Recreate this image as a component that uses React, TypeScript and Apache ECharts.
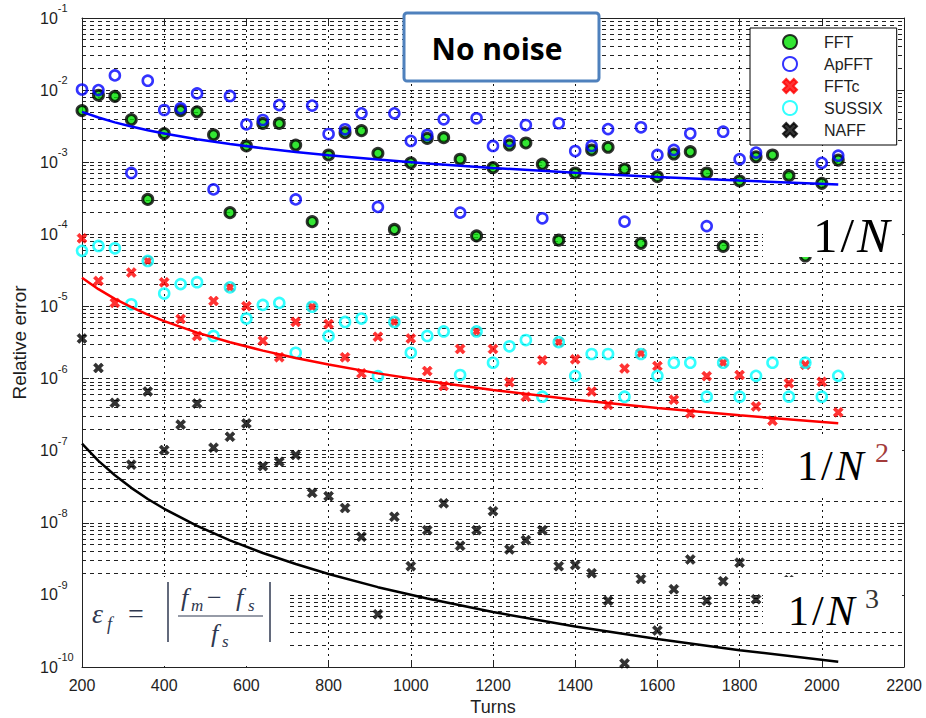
import React, { useEffect, useRef } from "react";
import * as echarts from "echarts";

// ---------- data ----------
const turns = [200, 240, 280, 320, 360, 400, 440, 480, 520, 560, 600, 640, 680, 720, 760, 800, 840, 880, 920, 960, 1000, 1040, 1080, 1120, 1160, 1200, 1240, 1280, 1320, 1360, 1400, 1440, 1480, 1520, 1560, 1600, 1640, 1680, 1720, 1760, 1800, 1840, 1880, 1920, 1960, 2000, 2040];

const fftErr = [5.2e-3, 8.5e-3, 8.2e-3, 3.9e-3, 3.05e-4,
  2.5e-3, 5.2e-3, 5.0e-3, 2.4e-3, 2.0e-4,
  1.68e-3, 3.45e-3, 3.45e-3, 1.73e-3, 1.5e-4,
  1.26e-3, 2.57e-3, 2.74e-3, 1.33e-3, 1.17e-4,
  9.8e-4, 2.14e-3, 2.19e-3, 1.1e-3, 9.5e-5,
  8.4e-4, 1.73e-3, 1.85e-3, 9.4e-4, 8.3e-5,
  7.1e-4, 1.48e-3, 1.61e-3, 8.05e-4, 7.5e-5,
  6.3e-4, 1.3e-3, 1.4e-3, 7.1e-4, 6.8e-5,
  5.5e-4, 1.19e-3, 1.26e-3, 6.5e-4, 5.0e-5,
  5.1e-4, 1.07e-3];

const apfftErr = [1.02e-2, 1.0e-2, 1.6e-2, 7.1e-4, 1.35e-2,
  5.3e-3, 5.6e-3, 9.0e-3, 4.2e-4, 8.3e-3,
  3.35e-3, 3.85e-3, 6.2e-3, 3.05e-4, 6.1e-3,
  2.46e-3, 2.86e-3, 4.76e-3, 2.4e-4, 4.76e-3,
  1.97e-3, 2.38e-3, 3.93e-3, 2.0e-4, 4.07e-3,
  1.68e-3, 1.97e-3, 3.28e-3, 1.67e-4, 3.47e-3,
  1.43e-3, 1.68e-3, 2.88e-3, 1.5e-4, 3.05e-3,
  1.26e-3, 1.48e-3, 2.5e-3, 1.3e-4, 2.65e-3,
  1.1e-3, 1.36e-3, null, null, null,
  9.8e-4, 1.23e-3];

const fftcErr = [8.8e-5, 2.26e-5, 1.12e-5, 2.95e-5, 4.27e-5,
  2.16e-5, 6.7e-6, 3.9e-6, 1.19e-5, 1.84e-5,
  1.01e-5, 3.34e-6, 1.97e-6, 6.1e-6, 9.9e-6,
  5.7e-6, 1.97e-6, 1.18e-6, 3.8e-6, 6.1e-6,
  3.6e-6, 1.27e-6, 7.9e-7, 2.57e-6, 4.5e-6,
  2.57e-6, 8.9e-7, 5.6e-7, 1.8e-6, 3.2e-6,
  1.85e-6, 6.6e-7, 4.3e-7, 1.38e-6, 2.24e-6,
  1.49e-6, 5.1e-7, 3.3e-7, 1.08e-6, 1.66e-6,
  1.12e-6, 4.1e-7, 2.6e-7, 8.6e-7, 1.55e-6,
  9.0e-7, 3.4e-7];

const sussixErr = [5.9e-5, 6.9e-5, 6.4e-5, 1.07e-5, 4.27e-5,
  1.51e-5, 2.04e-5, 2.17e-5, 3.9e-6, 1.84e-5,
  6.8e-6, 1.05e-5, 1.12e-5, 2.28e-6, 9.9e-6,
  3.9e-6, 6.1e-6, 6.8e-6, 1.08e-6, 6.1e-6,
  2.28e-6, 3.9e-6, 4.5e-6, 1.12e-6, 4.5e-6,
  1.66e-6, 2.8e-6, 3.42e-6, 5.6e-7, 3.2e-6,
  1.09e-6, 2.19e-6, 2.19e-6, 5.6e-7, 2.19e-6,
  1.09e-6, 1.66e-6, 1.66e-6, 5.6e-7, 1.66e-6,
  5.6e-7, 1.09e-6, 1.66e-6, 5.6e-7, 1.66e-6,
  5.6e-7, 1.09e-6];

const naffErr = [3.6e-6, 1.4e-6, 4.6e-7, 6.4e-8, 6.6e-7,
  1.02e-7, 2.3e-7, 4.5e-7, 1.1e-7, 1.56e-7,
  2.39e-7, 6.1e-8, 7.0e-8, 8.7e-8, 2.6e-8,
  2.34e-8, 1.6e-8, 6.4e-9, 5.4e-10, 1.21e-8,
  2.5e-9, 7.9e-9, 1.86e-8, 4.8e-9, 7.9e-9,
  1.45e-8, 4.27e-9, 5.75e-9, 7.9e-9, 2.5e-9,
  2.6e-9, 2.0e-9, 8.3e-10, 1.12e-10, 1.66e-9,
  3.2e-10, 1.2e-9, 3.1e-9, 8.3e-10, 1.55e-9,
  2.8e-9, 8.7e-10, null, 1.6e-9, null,
  null, null];

// reference curves
const fitTurns = [200, 240, 280, 320, 360, 400, 480, 560, 640, 720, 800, 920, 1040, 1200, 1400, 1600, 1800, 2040];
const fitInvN = [5.0e-3, 4.167e-3, 3.571e-3, 3.125e-3, 2.778e-3, 2.5e-3, 2.083e-3, 1.786e-3, 1.5625e-3, 1.389e-3, 1.25e-3, 1.087e-3, 9.62e-4, 8.33e-4, 7.14e-4, 6.25e-4, 5.56e-4, 4.9e-4];
const fitInvN2 = [2.5e-5, 1.736e-5, 1.276e-5, 9.77e-6, 7.72e-6, 6.25e-6, 4.34e-6, 3.19e-6, 2.44e-6, 1.93e-6, 1.5625e-6, 1.18e-6, 9.25e-7, 6.94e-7, 5.1e-7, 3.91e-7, 3.09e-7, 2.4e-7];
const fitInvN3 = [1.25e-7, 7.23e-8, 4.56e-8, 3.05e-8, 2.14e-8, 1.5625e-8, 9.04e-9, 5.69e-9, 3.81e-9, 2.68e-9, 1.95e-9, 1.28e-9, 8.89e-10, 5.79e-10, 3.64e-10, 2.44e-10, 1.71e-10, 1.18e-10];

const legendNames = ["FFT", "ApFFT", "FFTc", "SUSSIX", "NAFF"];
const xName = "Turns";
const yName = "Relative error";
const titleText = "No noise";

// ---------- styling ----------
const SANS = '"Liberation Sans", Arial, Helvetica, sans-serif';
const SERIF = '"Liberation Serif", "Times New Roman", serif';
const X_SYMBOL = "path://M0,2.3 L2.3,0 L5,2.7 L7.7,0 L10,2.3 L7.3,5 L10,7.7 L7.7,10 L5,7.3 L2.3,10 L0,7.7 L2.7,5 Z";

function pairs(xs: number[], ys: (number | null)[]) {
  return xs.map((x, i) => [x, ys[i]]).filter((p) => p[1] !== null && p[1] !== undefined);
}

const minorGrid: number[] = [];
for (let e = -10; e < -1; e++) {
  for (let m = 2; m <= 9; m++) minorGrid.push(m * Math.pow(10, e));
}

function whiteBox(x: number, y: number, w: number, h: number) {
  return { type: "rect", z: 100, silent: true, shape: { x, y, width: w, height: h }, style: { fill: "#fff" } };
}
function txt(text: string, x: number, y: number, size: number, color: string, italic = false, family = SERIF, weight = "normal") {
  return {
    type: "text", z: 101, silent: true, x, y,
    style: { text, fill: color, fontSize: size, fontFamily: family, fontStyle: italic ? "italic" : "normal", fontWeight: weight, align: "left", verticalAlign: "middle" },
  };
}
function fracRich(size: number, color: string, pad: number) {
  return {
    d: { fontSize: size, fontFamily: SERIF, color, padding: [0, pad, 0, 0] },
    s: { fontSize: size, fontFamily: SERIF, color, padding: [0, pad, 0, 0] },
    n: { fontSize: size, fontFamily: SERIF, fontStyle: "italic", color },
  };
}
function oneOverN(x: number, y: number, size: number, color: string, pad: number) {
  return {
    type: "text", z: 101, silent: true, x, y,
    style: { text: "{d|1}{s|/}{n|N}", rich: fracRich(size, color, pad), align: "left", verticalAlign: "middle" },
  };
}

const FORMULA = "#2f3850";
const INK = "#1e1e1e";
const GRID = "#222";

export default function App() {
  const ref = useRef<HTMLDivElement>(null);
  useEffect(() => {
    if (!ref.current) return;
    const chart = echarts.init(ref.current, null, { renderer: "svg" });
    const option: any = {
      animation: false,
      backgroundColor: "#fff",
      grid: { left: 82, right: 22, top: 18, bottom: 51, containLabel: false, outerBoundsMode: "none" },
      legend: {
        data: legendNames,
        orient: "vertical",
        left: 750,
        top: 28,
        z: 20,
        padding: [6, 14, 7, 32],
        itemWidth: 14,
        itemHeight: 14,
        itemGap: 6,
        backgroundColor: "#fff",
        borderColor: "#000",
        borderWidth: 1,
        borderRadius: 0,
        selectedMode: false,
        textStyle: { fontFamily: SANS, fontSize: 16, color: INK, lineHeight: 16, padding: [0, 0, 0, 22] },
      },
      xAxis: [
        {
          type: "value", min: 200, max: 2200, interval: 200, position: "bottom",
          name: xName, nameLocation: "middle", nameGap: 31,
          nameTextStyle: { fontFamily: SANS, fontSize: 18, color: INK },
          axisLine: { show: true, onZero: false, lineStyle: { color: "#222", width: 1 } },
          axisTick: { show: true, inside: true, length: 7, lineStyle: { color: "#222" } },
          axisLabel: { fontFamily: SANS, fontSize: 16, color: INK, margin: 10, formatter: (v: number) => String(v) },
          splitLine: { show: true, lineStyle: { type: [2, 4], color: "#111", width: 1 } },
        },
        {
          type: "value", min: 200, max: 2200, interval: 200, position: "top",
          axisLine: { show: true, onZero: false, lineStyle: { color: "#222", width: 1 } },
          axisTick: { show: true, inside: true, length: 7, lineStyle: { color: "#222" } },
          axisLabel: { show: false },
          splitLine: { show: false },
        },
      ],
      yAxis: [
        {
          type: "log", logBase: 10, min: 1e-10, max: 1e-1, splitNumber: 9, position: "left",
          name: yName, nameLocation: "middle", nameGap: 52, nameRotate: 90,
          nameTextStyle: { fontFamily: SANS, fontSize: 19, color: INK },
          axisLine: { show: true, onZero: false, lineStyle: { color: "#222", width: 1 } },
          axisTick: { show: true, inside: true, length: 7, lineStyle: { color: "#222" } },
          axisLabel: {
            align: "left",
            margin: 42,
            formatter: (v: number) => `{b|10}{s|${Math.round(Math.log10(v))}}`,
            rich: {
              b: { fontSize: 16, fontFamily: SANS, color: INK, lineHeight: 31 },
              s: { fontSize: 11, fontFamily: SANS, color: INK, lineHeight: 11, padding: [0, 0, 20, 0] },
            },
          },
          splitLine: { show: true, lineStyle: { type: [4, 4], color: GRID, width: 1 } },
        },
        {
          type: "log", logBase: 10, min: 1e-10, max: 1e-1, splitNumber: 9, position: "right",
          axisLine: { show: true, onZero: false, lineStyle: { color: "#222", width: 1 } },
          axisTick: { show: true, inside: true, length: 7, lineStyle: { color: "#222" } },
          axisLabel: { show: false },
          splitLine: { show: false },
        },
      ],
      series: [
        {
          type: "line", name: "minorGrid", data: [], silent: true, z: 1,
          markLine: {
            silent: true, symbol: ["none", "none"], label: { show: false }, animation: false,
            precision: 15, z: 1,
            lineStyle: { type: [4, 4], color: GRID, width: 1 },
            data: minorGrid.map((v) => ({ yAxis: v })),
          },
        },
        { type: "line", name: "1/N", data: pairs(fitTurns, fitInvN), symbol: "none", silent: true, lineStyle: { color: "#0000ff", width: 2.5 } },
        { type: "line", name: "1/N^2", data: pairs(fitTurns, fitInvN2), symbol: "none", silent: true, lineStyle: { color: "#ff0000", width: 2.5 } },
        { type: "line", name: "1/N^3", data: pairs(fitTurns, fitInvN3), symbol: "none", silent: true, lineStyle: { color: "#000000", width: 2.5 } },
        { type: "scatter", name: "FFT", data: pairs(turns, fftErr), symbol: "circle", symbolSize: 10, silent: true, itemStyle: { color: "#00e000", borderColor: "#000", borderWidth: 3 } },
        { type: "scatter", name: "ApFFT", data: pairs(turns, apfftErr), symbol: "circle", symbolSize: 10, silent: true, itemStyle: { color: "rgba(255,255,255,0)", borderColor: "#0000ff", borderWidth: 2.6 } },
        { type: "scatter", name: "FFTc", data: pairs(turns, fftcErr), symbol: X_SYMBOL, symbolSize: 10, silent: true, itemStyle: { color: "#ff0000", borderColor: "#ff0000", borderWidth: 0.6 } },
        { type: "scatter", name: "SUSSIX", data: pairs(turns, sussixErr), symbol: "circle", symbolSize: 10, silent: true, itemStyle: { color: "rgba(255,255,255,0)", borderColor: "#00ffff", borderWidth: 2.6 } },
        { type: "scatter", name: "NAFF", data: pairs(turns, naffErr), symbol: X_SYMBOL, symbolSize: 10, silent: true, itemStyle: { color: "#000000", borderColor: "#000", borderWidth: 0.6 } },
      ],
      graphic: {
        elements: [
          // "No noise" label box
          {
            type: "rect", z: 100, silent: true,
            shape: { x: 404, y: 13, width: 195, height: 68, r: 3 },
            style: { fill: "#fff", stroke: "#4f81bd", lineWidth: 3 },
          },
          {
            type: "text", z: 101, silent: true, x: 497, y: 48,
            style: { text: titleText, fill: "#000", fontSize: 30, fontFamily: '"Open Sans", Lato, sans-serif', fontWeight: "bold", align: "center", verticalAlign: "middle" },
          },
          // 1/N annotation
          whiteBox(763, 206, 139, 51),
          oneOverN(813, 235, 49, "#4a6da8", 3),
          // 1/N^2 annotation
          whiteBox(763, 436, 139, 60),
          oneOverN(797, 466, 42, "#a33b3b", 3),
          txt("2", 875, 452, 28, "#a33b3b"),
          // 1/N^3 annotation
          whiteBox(763, 577, 139, 52),
          oneOverN(788, 611, 42, "#333333", 3),
          txt("3", 865, 598, 28, "#333333"),
          // formula box
          whiteBox(83, 577, 205, 89),
          txt("ε", 92, 613, 28, FORMULA, true),
          txt("f", 107, 624, 18, FORMULA, true),
          txt("=", 128, 613, 28, FORMULA),
          { type: "line", z: 101, silent: true, shape: { x1: 168, y1: 582, x2: 168, y2: 642 }, style: { stroke: FORMULA, lineWidth: 1.5 } },
          txt("f", 181, 597, 26, FORMULA, true),
          txt("m", 191, 605, 17, FORMULA, true),
          txt("−", 207, 597, 26, FORMULA),
          txt("f", 236, 597, 26, FORMULA, true),
          txt("s", 248, 605, 17, FORMULA, true),
          { type: "line", z: 101, silent: true, shape: { x1: 178, y1: 616, x2: 263, y2: 616 }, style: { stroke: FORMULA, lineWidth: 1.2 } },
          txt("f", 211, 633, 26, FORMULA, true),
          txt("s", 222, 641, 17, FORMULA, true),
          { type: "line", z: 101, silent: true, shape: { x1: 270, y1: 582, x2: 270, y2: 642 }, style: { stroke: FORMULA, lineWidth: 1.5 } },
        ],
      },
    };
    chart.setOption(option);
    return () => chart.dispose();
  }, []);
  return (
    <div
      ref={ref}
      style={{ position: "fixed", left: 0, top: 0, width: 926, height: 718, background: "#fff" }}
    />
  );
}
